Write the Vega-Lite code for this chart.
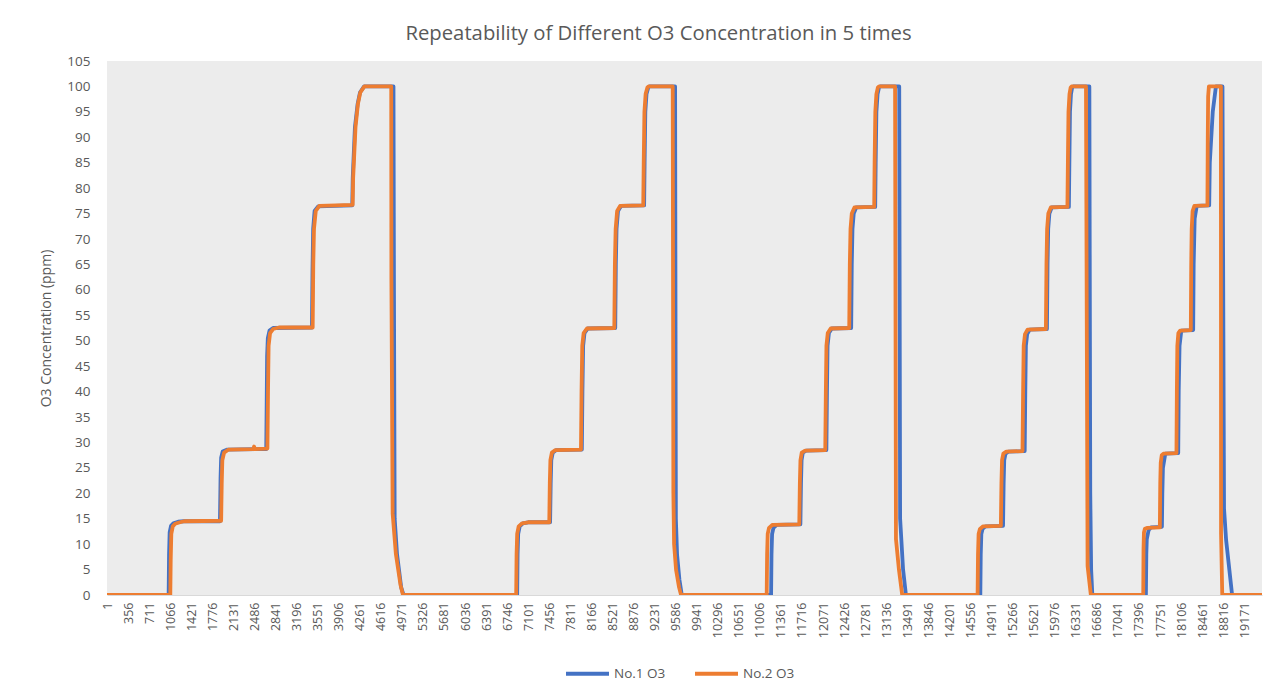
{
  "$schema": "https://vega.github.io/schema/vega-lite/v6.json",
  "autosize": {"type": "none"},
  "width": 1155,
  "height": 534,
  "padding": {"left": 107, "top": 61, "right": 26, "bottom": 96},
  "background": "#FFFFFF",
  "title": {
    "text": "Repeatability of Different O3 Concentration in 5 times",
    "font": "Open Sans",
    "fontSize": 20.3,
    "fontWeight": "normal",
    "color": "#595959",
    "anchor": "middle",
    "dx": -26,
    "offset": 10
  },
  "config": {
    "view": {"fill": "#ECECEC", "stroke": null},
    "font": "Open Sans"
  },
  "data": {
    "values": [
      {"t":1,"v":0,"s":"No.1 O3"},{"t":1040,"v":0,"s":"No.1 O3"},{"t":1047,"v":8,"s":"No.1 O3"},{"t":1057,"v":12.3,"s":"No.1 O3"},{"t":1080,"v":13.6,"s":"No.1 O3"},{"t":1120,"v":14.1,"s":"No.1 O3"},{"t":1200,"v":14.4,"s":"No.1 O3"},{"t":1300,"v":14.5,"s":"No.1 O3"},
      {"t":1905,"v":14.5,"s":"No.1 O3"},{"t":1915,"v":23,"s":"No.1 O3"},{"t":1925,"v":27,"s":"No.1 O3"},{"t":1950,"v":28.2,"s":"No.1 O3"},{"t":2030,"v":28.6,"s":"No.1 O3"},
      {"t":2685,"v":28.7,"s":"No.1 O3"},{"t":2693,"v":38,"s":"No.1 O3"},{"t":2700,"v":47,"s":"No.1 O3"},{"t":2712,"v":50.5,"s":"No.1 O3"},{"t":2740,"v":52,"s":"No.1 O3"},{"t":2800,"v":52.5,"s":"No.1 O3"},
      {"t":3455,"v":52.6,"s":"No.1 O3"},{"t":3465,"v":64,"s":"No.1 O3"},{"t":3476,"v":72,"s":"No.1 O3"},{"t":3500,"v":75.5,"s":"No.1 O3"},{"t":3560,"v":76.4,"s":"No.1 O3"},
      {"t":4135,"v":76.6,"s":"No.1 O3"},{"t":4143,"v":82,"s":"No.1 O3"},{"t":4180,"v":92,"s":"No.1 O3"},{"t":4225,"v":96.5,"s":"No.1 O3"},{"t":4265,"v":98.8,"s":"No.1 O3"},{"t":4335,"v":100,"s":"No.1 O3"},
      {"t":4830,"v":100,"s":"No.1 O3"},{"t":4838,"v":60,"s":"No.1 O3"},{"t":4850,"v":15,"s":"No.1 O3"},{"t":4890,"v":8,"s":"No.1 O3"},{"t":4960,"v":1.5,"s":"No.1 O3"},{"t":5000,"v":0,"s":"No.1 O3"},
      {"t":6915,"v":0,"s":"No.1 O3"},{"t":6922,"v":8,"s":"No.1 O3"},{"t":6932,"v":12,"s":"No.1 O3"},{"t":6958,"v":13.5,"s":"No.1 O3"},{"t":7010,"v":14.1,"s":"No.1 O3"},{"t":7100,"v":14.3,"s":"No.1 O3"},
      {"t":7470,"v":14.3,"s":"No.1 O3"},{"t":7480,"v":22,"s":"No.1 O3"},{"t":7490,"v":26.5,"s":"No.1 O3"},{"t":7515,"v":28,"s":"No.1 O3"},{"t":7575,"v":28.5,"s":"No.1 O3"},
      {"t":8005,"v":28.6,"s":"No.1 O3"},{"t":8015,"v":40,"s":"No.1 O3"},{"t":8027,"v":49,"s":"No.1 O3"},{"t":8050,"v":51.5,"s":"No.1 O3"},{"t":8105,"v":52.4,"s":"No.1 O3"},
      {"t":8568,"v":52.5,"s":"No.1 O3"},{"t":8578,"v":65,"s":"No.1 O3"},{"t":8590,"v":72,"s":"No.1 O3"},{"t":8615,"v":75.5,"s":"No.1 O3"},{"t":8665,"v":76.5,"s":"No.1 O3"},
      {"t":9055,"v":76.6,"s":"No.1 O3"},{"t":9063,"v":85,"s":"No.1 O3"},{"t":9075,"v":95,"s":"No.1 O3"},{"t":9095,"v":98.5,"s":"No.1 O3"},{"t":9125,"v":99.8,"s":"No.1 O3"},{"t":9145,"v":100,"s":"No.1 O3"},
      {"t":9577,"v":100,"s":"No.1 O3"},{"t":9590,"v":15,"s":"No.1 O3"},{"t":9610,"v":8,"s":"No.1 O3"},{"t":9650,"v":3,"s":"No.1 O3"},{"t":9690,"v":0,"s":"No.1 O3"},
      {"t":11195,"v":0,"s":"No.1 O3"},{"t":11202,"v":8,"s":"No.1 O3"},{"t":11212,"v":12,"s":"No.1 O3"},{"t":11235,"v":13.2,"s":"No.1 O3"},{"t":11290,"v":13.8,"s":"No.1 O3"},
      {"t":11689,"v":13.9,"s":"No.1 O3"},{"t":11699,"v":22,"s":"No.1 O3"},{"t":11709,"v":26.5,"s":"No.1 O3"},{"t":11730,"v":28,"s":"No.1 O3"},{"t":11785,"v":28.4,"s":"No.1 O3"},
      {"t":12127,"v":28.5,"s":"No.1 O3"},{"t":12137,"v":40,"s":"No.1 O3"},{"t":12147,"v":49,"s":"No.1 O3"},{"t":12170,"v":51.5,"s":"No.1 O3"},{"t":12220,"v":52.4,"s":"No.1 O3"},
      {"t":12545,"v":52.5,"s":"No.1 O3"},{"t":12555,"v":65,"s":"No.1 O3"},{"t":12567,"v":72,"s":"No.1 O3"},{"t":12588,"v":75,"s":"No.1 O3"},{"t":12630,"v":76.2,"s":"No.1 O3"},
      {"t":12950,"v":76.3,"s":"No.1 O3"},{"t":12958,"v":85,"s":"No.1 O3"},{"t":12970,"v":95,"s":"No.1 O3"},{"t":12990,"v":98.5,"s":"No.1 O3"},{"t":13015,"v":99.8,"s":"No.1 O3"},{"t":13035,"v":100,"s":"No.1 O3"},
      {"t":13355,"v":100,"s":"No.1 O3"},{"t":13370,"v":15,"s":"No.1 O3"},{"t":13420,"v":5,"s":"No.1 O3"},{"t":13468,"v":0,"s":"No.1 O3"},
      {"t":14722,"v":0,"s":"No.1 O3"},{"t":14729,"v":8,"s":"No.1 O3"},{"t":14739,"v":12,"s":"No.1 O3"},{"t":14760,"v":13,"s":"No.1 O3"},{"t":14810,"v":13.5,"s":"No.1 O3"},
      {"t":15105,"v":13.6,"s":"No.1 O3"},{"t":15115,"v":22,"s":"No.1 O3"},{"t":15125,"v":26.5,"s":"No.1 O3"},{"t":15147,"v":27.8,"s":"No.1 O3"},{"t":15195,"v":28.2,"s":"No.1 O3"},
      {"t":15470,"v":28.3,"s":"No.1 O3"},{"t":15480,"v":40,"s":"No.1 O3"},{"t":15490,"v":49,"s":"No.1 O3"},{"t":15512,"v":51.3,"s":"No.1 O3"},{"t":15555,"v":52.2,"s":"No.1 O3"},
      {"t":15845,"v":52.3,"s":"No.1 O3"},{"t":15855,"v":65,"s":"No.1 O3"},{"t":15866,"v":72,"s":"No.1 O3"},{"t":15886,"v":75,"s":"No.1 O3"},{"t":15925,"v":76.2,"s":"No.1 O3"},
      {"t":16215,"v":76.3,"s":"No.1 O3"},{"t":16223,"v":85,"s":"No.1 O3"},{"t":16233,"v":95,"s":"No.1 O3"},{"t":16250,"v":98.5,"s":"No.1 O3"},{"t":16270,"v":99.8,"s":"No.1 O3"},{"t":16290,"v":100,"s":"No.1 O3"},
      {"t":16560,"v":100,"s":"No.1 O3"},{"t":16575,"v":20,"s":"No.1 O3"},{"t":16590,"v":5,"s":"No.1 O3"},{"t":16610,"v":0,"s":"No.1 O3"},
      {"t":17513,"v":0,"s":"No.1 O3"},{"t":17520,"v":8,"s":"No.1 O3"},{"t":17528,"v":11,"s":"No.1 O3"},{"t":17560,"v":12.8,"s":"No.1 O3"},{"t":17600,"v":13.3,"s":"No.1 O3"},
      {"t":17783,"v":13.4,"s":"No.1 O3"},{"t":17790,"v":20,"s":"No.1 O3"},{"t":17800,"v":25,"s":"No.1 O3"},{"t":17840,"v":27.8,"s":"No.1 O3"},
      {"t":18058,"v":27.9,"s":"No.1 O3"},{"t":18066,"v":40,"s":"No.1 O3"},{"t":18080,"v":49,"s":"No.1 O3"},{"t":18110,"v":52,"s":"No.1 O3"},
      {"t":18310,"v":52.1,"s":"No.1 O3"},{"t":18318,"v":65,"s":"No.1 O3"},{"t":18335,"v":74,"s":"No.1 O3"},{"t":18370,"v":76.5,"s":"No.1 O3"},
      {"t":18580,"v":76.6,"s":"No.1 O3"},{"t":18590,"v":85,"s":"No.1 O3"},{"t":18640,"v":95,"s":"No.1 O3"},{"t":18693,"v":100,"s":"No.1 O3"},
      {"t":18804,"v":100,"s":"No.1 O3"},{"t":18830,"v":17,"s":"No.1 O3"},{"t":18865,"v":10.8,"s":"No.1 O3"},{"t":18966,"v":0,"s":"No.1 O3"},{"t":19470,"v":0,"s":"No.1 O3"},

      {"t":1,"v":0,"s":"No.2 O3"},{"t":1068,"v":0,"s":"No.2 O3"},{"t":1075,"v":7,"s":"No.2 O3"},{"t":1085,"v":12,"s":"No.2 O3"},{"t":1110,"v":13.5,"s":"No.2 O3"},{"t":1150,"v":14,"s":"No.2 O3"},{"t":1230,"v":14.3,"s":"No.2 O3"},{"t":1300,"v":14.5,"s":"No.2 O3"},
      {"t":1925,"v":14.6,"s":"No.2 O3"},{"t":1935,"v":22,"s":"No.2 O3"},{"t":1945,"v":26.5,"s":"No.2 O3"},{"t":1975,"v":28,"s":"No.2 O3"},{"t":2050,"v":28.6,"s":"No.2 O3"},{"t":2470,"v":28.7,"s":"No.2 O3"},{"t":2480,"v":29.2,"s":"No.2 O3"},{"t":2490,"v":28.7,"s":"No.2 O3"},
      {"t":2705,"v":28.8,"s":"No.2 O3"},{"t":2715,"v":40,"s":"No.2 O3"},{"t":2725,"v":49,"s":"No.2 O3"},{"t":2750,"v":51.5,"s":"No.2 O3"},{"t":2800,"v":52.3,"s":"No.2 O3"},{"t":2900,"v":52.6,"s":"No.2 O3"},
      {"t":3468,"v":52.6,"s":"No.2 O3"},{"t":3478,"v":65,"s":"No.2 O3"},{"t":3490,"v":72,"s":"No.2 O3"},{"t":3520,"v":75.5,"s":"No.2 O3"},{"t":3580,"v":76.5,"s":"No.2 O3"},
      {"t":4142,"v":76.7,"s":"No.2 O3"},{"t":4150,"v":82,"s":"No.2 O3"},{"t":4190,"v":92,"s":"No.2 O3"},{"t":4230,"v":96.5,"s":"No.2 O3"},{"t":4270,"v":98.8,"s":"No.2 O3"},{"t":4340,"v":100,"s":"No.2 O3"},
      {"t":4792,"v":100,"s":"No.2 O3"},{"t":4795,"v":62,"s":"No.2 O3"},{"t":4816,"v":16,"s":"No.2 O3"},{"t":4871,"v":8,"s":"No.2 O3"},{"t":4948,"v":2,"s":"No.2 O3"},{"t":4990,"v":0,"s":"No.2 O3"},
      {"t":6898,"v":0,"s":"No.2 O3"},{"t":6905,"v":8,"s":"No.2 O3"},{"t":6915,"v":12,"s":"No.2 O3"},{"t":6940,"v":13.5,"s":"No.2 O3"},{"t":7000,"v":14.1,"s":"No.2 O3"},{"t":7100,"v":14.3,"s":"No.2 O3"},
      {"t":7456,"v":14.3,"s":"No.2 O3"},{"t":7465,"v":22,"s":"No.2 O3"},{"t":7475,"v":26.5,"s":"No.2 O3"},{"t":7500,"v":28,"s":"No.2 O3"},{"t":7560,"v":28.5,"s":"No.2 O3"},
      {"t":7990,"v":28.6,"s":"No.2 O3"},{"t":8000,"v":40,"s":"No.2 O3"},{"t":8012,"v":49,"s":"No.2 O3"},{"t":8035,"v":51.5,"s":"No.2 O3"},{"t":8090,"v":52.4,"s":"No.2 O3"},
      {"t":8552,"v":52.5,"s":"No.2 O3"},{"t":8562,"v":65,"s":"No.2 O3"},{"t":8575,"v":72,"s":"No.2 O3"},{"t":8600,"v":75.5,"s":"No.2 O3"},{"t":8650,"v":76.5,"s":"No.2 O3"},
      {"t":9040,"v":76.6,"s":"No.2 O3"},{"t":9048,"v":85,"s":"No.2 O3"},{"t":9060,"v":95,"s":"No.2 O3"},{"t":9080,"v":98.5,"s":"No.2 O3"},{"t":9110,"v":99.8,"s":"No.2 O3"},{"t":9130,"v":100,"s":"No.2 O3"},
      {"t":9537,"v":100,"s":"No.2 O3"},{"t":9548,"v":20,"s":"No.2 O3"},{"t":9560,"v":10,"s":"No.2 O3"},{"t":9593,"v":5,"s":"No.2 O3"},{"t":9644,"v":1.5,"s":"No.2 O3"},{"t":9678,"v":0,"s":"No.2 O3"},
      {"t":11121,"v":0,"s":"No.2 O3"},{"t":11128,"v":8,"s":"No.2 O3"},{"t":11138,"v":12,"s":"No.2 O3"},{"t":11160,"v":13.2,"s":"No.2 O3"},{"t":11220,"v":13.8,"s":"No.2 O3"},
      {"t":11670,"v":13.9,"s":"No.2 O3"},{"t":11680,"v":22,"s":"No.2 O3"},{"t":11690,"v":26.5,"s":"No.2 O3"},{"t":11712,"v":28,"s":"No.2 O3"},{"t":11770,"v":28.4,"s":"No.2 O3"},
      {"t":12108,"v":28.5,"s":"No.2 O3"},{"t":12118,"v":40,"s":"No.2 O3"},{"t":12128,"v":49,"s":"No.2 O3"},{"t":12150,"v":51.5,"s":"No.2 O3"},{"t":12200,"v":52.4,"s":"No.2 O3"},
      {"t":12512,"v":52.5,"s":"No.2 O3"},{"t":12522,"v":65,"s":"No.2 O3"},{"t":12534,"v":72,"s":"No.2 O3"},{"t":12555,"v":75,"s":"No.2 O3"},{"t":12600,"v":76.2,"s":"No.2 O3"},
      {"t":12933,"v":76.3,"s":"No.2 O3"},{"t":12940,"v":85,"s":"No.2 O3"},{"t":12952,"v":95,"s":"No.2 O3"},{"t":12970,"v":98.5,"s":"No.2 O3"},{"t":12995,"v":99.8,"s":"No.2 O3"},{"t":13015,"v":100,"s":"No.2 O3"},
      {"t":13285,"v":100,"s":"No.2 O3"},{"t":13300,"v":11,"s":"No.2 O3"},{"t":13350,"v":5,"s":"No.2 O3"},{"t":13405,"v":0,"s":"No.2 O3"},
      {"t":14676,"v":0,"s":"No.2 O3"},{"t":14683,"v":8,"s":"No.2 O3"},{"t":14693,"v":12,"s":"No.2 O3"},{"t":14715,"v":13,"s":"No.2 O3"},{"t":14770,"v":13.5,"s":"No.2 O3"},
      {"t":15068,"v":13.6,"s":"No.2 O3"},{"t":15078,"v":22,"s":"No.2 O3"},{"t":15088,"v":26.5,"s":"No.2 O3"},{"t":15110,"v":27.8,"s":"No.2 O3"},{"t":15160,"v":28.2,"s":"No.2 O3"},
      {"t":15433,"v":28.3,"s":"No.2 O3"},{"t":15443,"v":40,"s":"No.2 O3"},{"t":15453,"v":49,"s":"No.2 O3"},{"t":15475,"v":51.3,"s":"No.2 O3"},{"t":15520,"v":52.2,"s":"No.2 O3"},
      {"t":15827,"v":52.3,"s":"No.2 O3"},{"t":15837,"v":65,"s":"No.2 O3"},{"t":15848,"v":72,"s":"No.2 O3"},{"t":15868,"v":75,"s":"No.2 O3"},{"t":15910,"v":76.2,"s":"No.2 O3"},
      {"t":16190,"v":76.3,"s":"No.2 O3"},{"t":16198,"v":85,"s":"No.2 O3"},{"t":16208,"v":95,"s":"No.2 O3"},{"t":16225,"v":98.5,"s":"No.2 O3"},{"t":16245,"v":99.8,"s":"No.2 O3"},{"t":16260,"v":100,"s":"No.2 O3"},
      {"t":16503,"v":100,"s":"No.2 O3"},{"t":16530,"v":5.7,"s":"No.2 O3"},{"t":16585,"v":0,"s":"No.2 O3"},
      {"t":17468,"v":0,"s":"No.2 O3"},{"t":17473,"v":9,"s":"No.2 O3"},{"t":17480,"v":12.3,"s":"No.2 O3"},{"t":17495,"v":13,"s":"No.2 O3"},{"t":17540,"v":13.2,"s":"No.2 O3"},
      {"t":17748,"v":13.3,"s":"No.2 O3"},{"t":17755,"v":22,"s":"No.2 O3"},{"t":17763,"v":26,"s":"No.2 O3"},{"t":17780,"v":27.5,"s":"No.2 O3"},{"t":17810,"v":27.8,"s":"No.2 O3"},
      {"t":18028,"v":27.9,"s":"No.2 O3"},{"t":18035,"v":40,"s":"No.2 O3"},{"t":18043,"v":49,"s":"No.2 O3"},{"t":18060,"v":51.5,"s":"No.2 O3"},{"t":18090,"v":52,"s":"No.2 O3"},
      {"t":18270,"v":52.1,"s":"No.2 O3"},{"t":18277,"v":65,"s":"No.2 O3"},{"t":18285,"v":72,"s":"No.2 O3"},{"t":18300,"v":75.5,"s":"No.2 O3"},{"t":18330,"v":76.5,"s":"No.2 O3"},
      {"t":18550,"v":76.6,"s":"No.2 O3"},{"t":18556,"v":90,"s":"No.2 O3"},{"t":18562,"v":98,"s":"No.2 O3"},{"t":18575,"v":100,"s":"No.2 O3"},
      {"t":18777,"v":100,"s":"No.2 O3"},{"t":18780,"v":12,"s":"No.2 O3"},{"t":18800,"v":0,"s":"No.2 O3"},{"t":19470,"v":0,"s":"No.2 O3"}
    ]
  },
  "mark": {"type": "line", "strokeWidth": 3.8, "strokeJoin": "round", "strokeCap": "butt", "clip": true},
  "encoding": {
    "x": {
      "field": "t",
      "type": "quantitative",
      "scale": {"domain": [1, 19470], "nice": false, "zero": false},
      "axis": {
        "title": null,
        "values": [1,356,711,1066,1421,1776,2131,2486,2841,3196,3551,3906,4261,4616,4971,5326,5681,6036,6391,6746,7101,7456,7811,8166,8521,8876,9231,9586,9941,10296,10651,11006,11361,11716,12071,12426,12781,13136,13491,13846,14201,14556,14911,15266,15621,15976,16331,16686,17041,17396,17751,18106,18461,18816,19171],
        "format": "d",
        "labelAngle": -90,
        "labelFont": "Open Sans",
        "labelFontSize": 12.5,
        "labelColor": "#595959",
        "labelOverlap": false,
        "labelPadding": 7,
        "labelFlush": false,
        "ticks": false,
        "grid": false,
        "domainColor": "#D9D9D9",
        "domainWidth": 1
      }
    },
    "y": {
      "field": "v",
      "type": "quantitative",
      "scale": {"domain": [0, 105], "nice": false},
      "axis": {
        "title": "O3 Concentration (ppm)",
        "titleFont": "Open Sans",
        "titleFontSize": 14,
        "titleFontWeight": "normal",
        "titleColor": "#595959",
        "titlePadding": 13,
        "values": [0,5,10,15,20,25,30,35,40,45,50,55,60,65,70,75,80,85,90,95,100,105],
        "labelFont": "Open Sans",
        "labelFontSize": 13.5,
        "labelColor": "#595959",
        "labelPadding": 17,
        "ticks": false,
        "grid": false,
        "domain": false
      }
    },
    "color": {
      "field": "s",
      "type": "nominal",
      "scale": {"domain": ["No.1 O3", "No.2 O3"], "range": ["#4472C4", "#ED7D31"]},
      "legend": {
        "title": null,
        "orient": "none",
        "direction": "horizontal",
        "legendX": 457,
        "legendY": 589,
        "padding": 0,
        "symbolType": "stroke",
        "symbolSize": 1849,
        "symbolStrokeWidth": 4,
        "labelFont": "Open Sans",
        "labelFontSize": 13.5,
        "labelColor": "#595959",
        "labelOffset": 3,
        "columnPadding": 21
      }
    }
  }
}
